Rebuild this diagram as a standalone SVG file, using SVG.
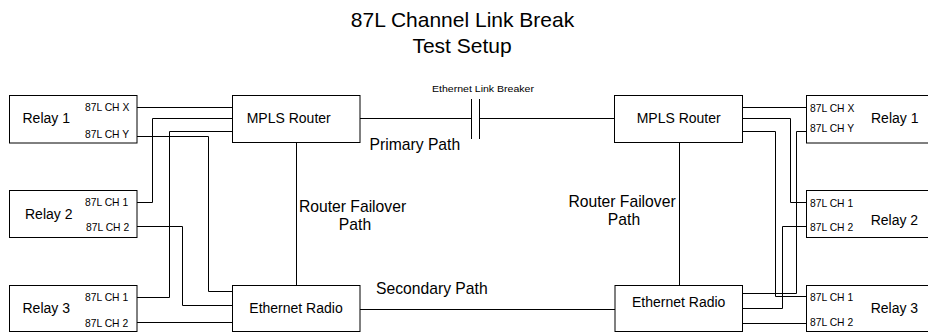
<svg xmlns="http://www.w3.org/2000/svg" width="928" height="333" viewBox="0 0 928 333">
  <style>
    text { font-family: "Liberation Sans", Arial, sans-serif; fill: #000; }
    .box { fill: #fff; stroke: #000; stroke-width: 1; }
    .wire { fill: none; stroke: #000; stroke-width: 1; }
    .title { font-size: 21px; text-anchor: middle; }
    .node { font-size: 14px; }
    .port { font-size: 10.3px; }
    .path { font-size: 15.7px; }
    .small { font-size: 9px; }
  </style>
  <rect width="928" height="333" fill="#fff"/>

  <!-- title -->
  <g id="title">
    <text class="title" x="462.5" y="27">87L Channel Link Break</text>
    <text class="title" x="462" y="53">Test Setup</text>
  </g>

  <!-- connectors -->
  <g id="connectors" class="wire">
    <!-- left relays to left router / radio -->
    <polyline points="137,107.5 232,107.5"/>
    <polyline points="232,118.5 152.5,118.5 152.5,202.5 137,202.5"/>
    <polyline points="232,131.5 169.5,131.5 169.5,297.5 137,297.5"/>
    <polyline points="137,136.5 208.5,136.5 208.5,291.5 232,291.5"/>
    <polyline points="137,226.5 182.5,226.5 182.5,305.5 232,305.5"/>
    <polyline points="137,322.5 232,322.5"/>
    <!-- right router / radio to right relays -->
    <polyline points="742.5,107.5 806,107.5"/>
    <polyline points="742.5,118.5 790.5,118.5 790.5,202.5 806,202.5"/>
    <polyline points="742.5,131.5 775.5,131.5 775.5,296.5 806,296.5"/>
    <polyline points="806,131.5 796.5,131.5 796.5,293.5 742.5,293.5"/>
    <polyline points="806,226.5 782.5,226.5 782.5,308.5 742.5,308.5"/>
    <polyline points="742.5,323.5 806,323.5"/>
    <!-- primary path with link breaker -->
    <line x1="360" y1="118.5" x2="471.5" y2="118.5"/>
    <line x1="479.5" y1="118.5" x2="614.5" y2="118.5"/>
    <line x1="471.5" y1="99" x2="471.5" y2="139"/>
    <line x1="479.5" y1="99" x2="479.5" y2="139"/>
    <!-- failover paths -->
    <line x1="296.5" y1="142.5" x2="296.5" y2="285.5"/>
    <line x1="679.5" y1="142.5" x2="679.5" y2="285.5"/>
    <!-- secondary path -->
    <line x1="360" y1="309.5" x2="615" y2="309.5"/>
  </g>

  <!-- link labels -->
  <g id="labels">
    <text class="small" x="432" y="91.5" textLength="102" lengthAdjust="spacingAndGlyphs">Ethernet Link Breaker</text>
    <text class="path" x="369.5" y="150">Primary Path</text>
    <text class="path" x="352.5" y="211.5" text-anchor="middle">Router Failover</text>
    <text class="path" x="355" y="229.5" text-anchor="middle">Path</text>
    <text class="path" x="622" y="206.5" text-anchor="middle">Router Failover</text>
    <text class="path" x="624" y="225" text-anchor="middle">Path</text>
    <text class="path" x="376" y="294">Secondary Path</text>
  </g>

  <!-- left side -->
  <g id="relay1-left">
    <rect class="box" x="9.5" y="95.5" width="127.5" height="47.5"/>
    <text class="node" x="22.5" y="123.3">Relay 1</text>
    <text class="port" x="85" y="111">87L CH X</text>
    <text class="port" x="85" y="137.7">87L CH Y</text>
  </g>
  <g id="relay2-left">
    <rect class="box" x="9.5" y="190.5" width="127.5" height="47"/>
    <text class="node" x="25" y="219.3">Relay 2</text>
    <text class="port" x="85" y="206">87L CH 1</text>
    <text class="port" x="86" y="231">87L CH 2</text>
  </g>
  <g id="relay3-left">
    <rect class="box" x="9.5" y="285.5" width="127.5" height="46"/>
    <text class="node" x="22.5" y="313.3">Relay 3</text>
    <text class="port" x="85" y="300.7">87L CH 1</text>
    <text class="port" x="85" y="326.7">87L CH 2</text>
  </g>
  <g id="router-left">
    <rect class="box" x="232.5" y="95.5" width="127.5" height="47"/>
    <text class="node" x="246.7" y="122.7">MPLS Router</text>
  </g>
  <g id="radio-left">
    <rect class="box" x="232.5" y="285.5" width="127.5" height="46"/>
    <text class="node" x="296" y="313.3" text-anchor="middle">Ethernet Radio</text>
  </g>

  <!-- right side -->
  <g id="router-right">
    <rect class="box" x="614.5" y="95.5" width="128" height="47"/>
    <text class="node" x="678.7" y="123.3" text-anchor="middle">MPLS Router</text>
  </g>
  <g id="radio-right">
    <rect class="box" x="615" y="285.5" width="127.5" height="46"/>
    <text class="node" x="678.7" y="307.3" text-anchor="middle">Ethernet Radio</text>
  </g>
  <g id="relay1-right">
    <rect class="box" x="806.5" y="95.5" width="128" height="47.5"/>
    <text class="node" x="871" y="122.7">Relay 1</text>
    <text class="port" x="810" y="111.7">87L CH X</text>
    <text class="port" x="810" y="132.3">87L CH Y</text>
  </g>
  <g id="relay2-right">
    <rect class="box" x="806.5" y="190.5" width="128" height="47"/>
    <text class="node" x="870.7" y="225">Relay 2</text>
    <text class="port" x="810" y="206.7">87L CH 1</text>
    <text class="port" x="810" y="231">87L CH 2</text>
  </g>
  <g id="relay3-right">
    <rect class="box" x="806.5" y="285.5" width="128" height="46"/>
    <text class="node" x="870.7" y="313.3">Relay 3</text>
    <text class="port" x="810" y="301">87L CH 1</text>
    <text class="port" x="810" y="326">87L CH 2</text>
  </g>
</svg>
